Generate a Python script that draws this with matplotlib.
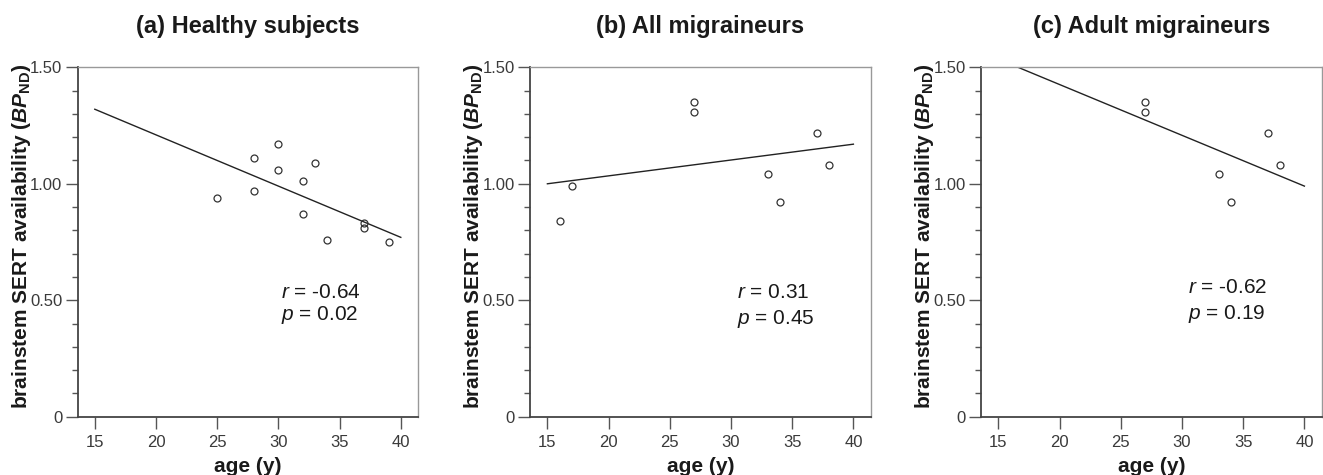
import matplotlib
matplotlib.use("Agg")
import matplotlib.pyplot as plt
from matplotlib.ticker import MultipleLocator, FixedLocator

plt.rcParams['font.family'] = ['Liberation Sans', 'DejaVu Sans']
plt.rcParams['mathtext.fontset'] = 'custom'
plt.rcParams['mathtext.rm'] = 'Liberation Sans'
plt.rcParams['mathtext.it'] = 'Liberation Sans:italic'
plt.rcParams['mathtext.bf'] = 'Liberation Sans:bold'
plt.rcParams['mathtext.bfit'] = 'Liberation Sans:bold:italic'

# ---- data ----
titles = ["(a) Healthy subjects", "(b) All migraineurs", "(c) Adult migraineurs"]

age_a = [25, 28, 28, 30, 30, 33, 32, 32, 34, 37, 37, 39]
sert_a = [0.94, 1.11, 0.97, 1.17, 1.06, 1.09, 1.01, 0.87, 0.76, 0.83, 0.81, 0.75]
fit_x_a = [15, 40]
fit_y_a = [1.32, 0.77]

age_b = [16, 17, 27, 27, 33, 34, 37, 38]
sert_b = [0.84, 0.99, 1.35, 1.31, 1.04, 0.92, 1.22, 1.08]
fit_x_b = [15, 40]
fit_y_b = [1.00, 1.17]

age_c = [27, 27, 33, 34, 37, 38]
sert_c = [1.35, 1.31, 1.04, 0.92, 1.22, 1.08]
fit_x_c = [15, 40]
fit_y_c = [1.535, 0.99]

r_labels = ["-0.64", "0.31", "-0.62"]
p_labels = ["0.02", "0.45", "0.19"]
stat_x = [30.25, 30.5, 30.47]
r_y = [0.51, 0.51, 0.53]
p_y = [0.415, 0.40, 0.42]

xticks = [15, 20, 25, 30, 35, 40]
yticks = [0, 0.5, 1.0, 1.5]
ytick_labels = ["0", "0.50", "1.00", "1.50"]

ages = [age_a, age_b, age_c]
serts = [sert_a, sert_b, sert_c]
fit_xs = [fit_x_a, fit_x_b, fit_x_c]
fit_ys = [fit_y_a, fit_y_b, fit_y_c]

fig = plt.figure(figsize=(13.23, 4.75), dpi=100)
lefts = [0.0587, 0.4008, 0.7417]
width = 0.2572
bottom = 0.1227
height = 0.7356

text_col = '#1a1a1a'
tick_col = '#3a3a3a'

for i in range(3):
    ax = fig.add_axes([lefts[i], bottom, width, height])
    ax.plot(fit_xs[i], fit_ys[i], color='#222222', lw=1.0)
    ax.plot(ages[i], serts[i], linestyle='none', marker='o', markersize=5,
            markerfacecolor='none', markeredgecolor='#333333', markeredgewidth=0.9)
    ax.set_xlim(13.6, 41.4)
    ax.set_ylim(0, 1.5)
    ax.xaxis.set_major_locator(FixedLocator(xticks))
    ax.yaxis.set_major_locator(FixedLocator(yticks))
    ax.set_yticklabels(ytick_labels)
    ax.yaxis.set_minor_locator(MultipleLocator(0.1))
    ax.tick_params(axis='both', which='major', direction='out', length=8.6, width=1.0,
                   color='#555555', labelsize=12, labelcolor=tick_col, pad=2.5)
    ax.tick_params(axis='x', which='major', pad=4.5)
    ax.tick_params(axis='y', which='minor', direction='out', length=4.5, width=1.0,
                   color='#555555')
    for s in ['left', 'bottom']:
        ax.spines[s].set_color('#444444')
        ax.spines[s].set_linewidth(1.3)
    for s in ['top', 'right']:
        ax.spines[s].set_color('#999999')
        ax.spines[s].set_linewidth(1.0)
    ax.set_title(titles[i], fontsize=17, fontweight='bold', color=text_col, pad=25)
    ax.set_xlabel("age (y)", fontsize=15, fontweight='bold', color=text_col, labelpad=5)
    ax.set_ylabel(r"brainstem SERT availability ($\mathbfit{BP}_{\mathbf{ND}}$)",
                  fontsize=15, fontweight='bold', color=text_col)
    ax.yaxis.set_label_coords(-0.132, 0.515)
    ax.text(stat_x[i], r_y[i], r"$\mathit{r}$ = " + r_labels[i], fontsize=15,
            color=text_col, ha='left', va='baseline')
    ax.text(stat_x[i], p_y[i], r"$\mathit{p}$ = " + p_labels[i], fontsize=15,
            color=text_col, ha='left', va='baseline')

fig.savefig("out.png", dpi=100)
